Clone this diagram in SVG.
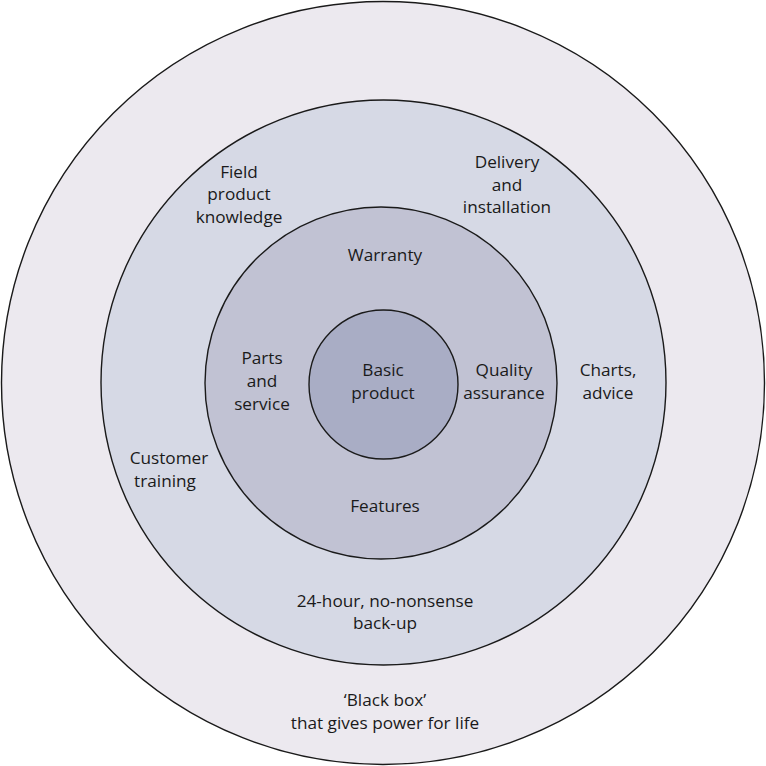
<svg xmlns="http://www.w3.org/2000/svg" width="766" height="766" viewBox="0 0 766 766">
<style>
.ring{stroke:#1a1a1a;stroke-width:1.4}
text{font-family:"Open Sans","Liberation Sans",sans-serif;font-size:17.2px;fill:#1a1a1a;text-anchor:middle}
</style>
<rect width="766" height="766" fill="#ffffff"/>
<g id="ring-outer"><circle class="ring" cx="383" cy="383" r="381.5" fill="#ece9ef"/></g>
<g id="ring-2"><circle class="ring" cx="383.5" cy="382.5" r="282.5" fill="#d6d9e5"/></g>
<g id="ring-3"><circle class="ring" cx="381" cy="383" r="176" fill="#c1c2d3"/></g>
<g id="ring-core"><circle class="ring" cx="383.5" cy="384.5" r="74.5" fill="#a9adc5"/></g>
<g id="labels">
<g id="basic"><text x="383" y="376">Basic</text><text x="383" y="399">product</text></g>
<g id="warranty"><text x="385" y="261">Warranty</text></g>
<g id="parts"><text x="262" y="364">Parts</text><text x="262" y="387">and</text><text x="262" y="410">service</text></g>
<g id="quality"><text x="504" y="376">Quality</text><text x="504" y="399">assurance</text></g>
<g id="features"><text x="385" y="512">Features</text></g>
<g id="field"><text x="239" y="178">Field</text><text x="239" y="200">product</text><text x="239" y="223">knowledge</text></g>
<g id="delivery"><text x="507" y="168">Delivery</text><text x="507" y="191">and</text><text x="507" y="213">installation</text></g>
<g id="charts"><text x="608" y="376">Charts,</text><text x="608" y="399">advice</text></g>
<g id="customer"><text x="169" y="464">Customer</text><text x="165" y="487">training</text></g>
<g id="backup"><text x="385" y="607">24-hour, no-nonsense</text><text x="385" y="629">back-up</text></g>
<g id="blackbox"><text x="385" y="706">‘Black box’</text><text x="385" y="729">that gives power for life</text></g>
</g>
</svg>
